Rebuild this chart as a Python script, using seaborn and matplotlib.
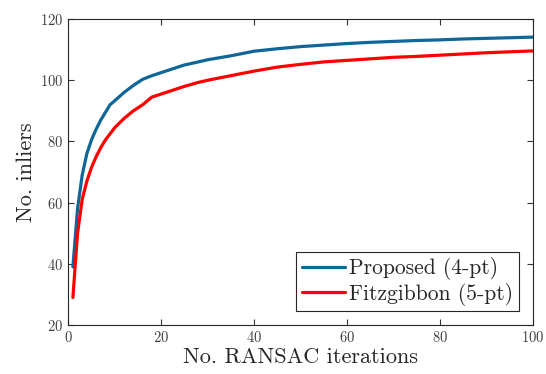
import matplotlib
matplotlib.use("Agg")
import matplotlib.pyplot as plt
import seaborn as sns
import pandas as pd

iterations = [1, 2, 3, 4, 5, 6, 7, 8, 9, 10, 12, 14, 16, 18, 20, 22, 25, 28, 30,
              35, 40, 45, 50, 55, 60, 65, 70, 75, 80, 85, 90, 95, 100]
proposed = [39, 58, 69, 76, 80.5, 84, 87, 89.5, 92, 93.3, 96, 98.3, 100.3, 101.5,
            102.5, 103.5, 105, 106, 106.7, 108, 109.5, 110.3, 111, 111.5, 112,
            112.4, 112.7, 113, 113.2, 113.5, 113.7, 113.9, 114.1]
fitzgibbon = [29, 50, 61, 67, 71.5, 75, 78, 80.5, 82.5, 84.5, 87.5, 90, 92, 94.5,
              95.5, 96.5, 98, 99.3, 100, 101.5, 103, 104.3, 105.2, 106, 106.5,
              107, 107.5, 107.8, 108.2, 108.6, 109, 109.3, 109.6]
series_names = ["Proposed (4-pt)", "Fitzgibbon (5-pt)"]
x_ticks = [0, 20, 40, 60, 80, 100]
y_ticks = [20, 40, 60, 80, 100, 120]

df = pd.concat([
    pd.DataFrame({"iter": iterations, "inliers": proposed, "method": series_names[0]}),
    pd.DataFrame({"iter": iterations, "inliers": fitzgibbon, "method": series_names[1]}),
])

sns.set_style("ticks")
plt.rcParams["font.family"] = ["cmr10", "DejaVu Serif"]
plt.rcParams["axes.formatter.use_mathtext"] = True
plt.rcParams["mathtext.fontset"] = "cm"

fig = plt.figure(figsize=(5.46, 3.74), dpi=100)
ax = fig.add_axes([0.125, 0.131, 0.851, 0.818])

sns.lineplot(data=df, x="iter", y="inliers", hue="method",
             palette={series_names[0]: "#0e6699", series_names[1]: "#ff0000"},
             linewidth=2.3, ax=ax)

ax.set_xlim(0, 100)
ax.set_ylim(20, 120)
ax.set_xticks(x_ticks)
ax.set_yticks(y_ticks)
ax.tick_params(direction="in", top=True, right=True, length=4, width=0.8,
               colors="#333333", labelsize=10.5, labelcolor="#404040")
for s in ax.spines.values():
    s.set_color("#262626")
    s.set_linewidth(0.8)
ax.set_xlabel("No. RANSAC iterations", fontsize=16, color="#262626", labelpad=2)
ax.set_ylabel("No. inliers", fontsize=16, color="#262626", labelpad=3)

leg = ax.legend(loc="lower right", fontsize=15.5, frameon=True, fancybox=False,
                edgecolor="#262626", framealpha=1, handlelength=2.0,
                borderpad=0.25, labelspacing=0.1, handletextpad=0.22,
                borderaxespad=0.65)
leg.get_frame().set_linewidth(0.8)

fig.savefig("out.png", dpi=100)
